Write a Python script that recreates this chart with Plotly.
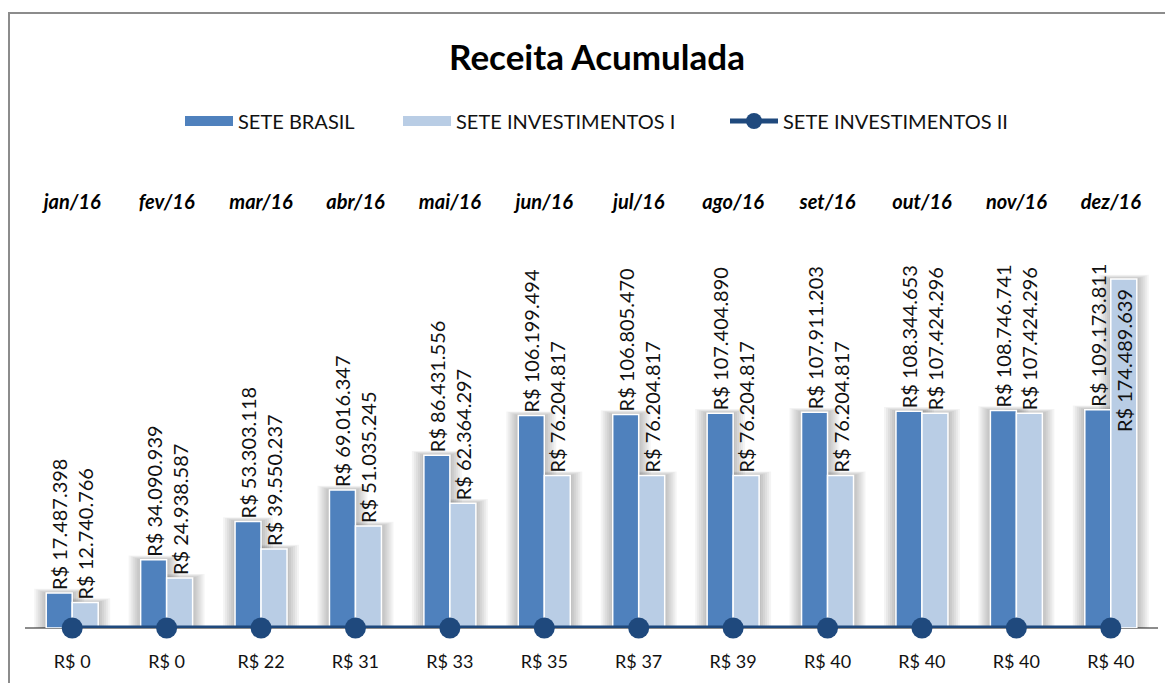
import plotly.graph_objects as go

months = ["jan/16", "fev/16", "mar/16", "abr/16", "mai/16", "jun/16",
          "jul/16", "ago/16", "set/16", "out/16", "nov/16", "dez/16"]
sete_brasil = [17487398, 34090939, 53303118, 69016347, 86431556, 106199494,
               106805470, 107404890, 107911203, 108344653, 108746741, 109173811]
sete_inv_1 = [12740766, 24938587, 39550237, 51035245, 62364297, 76204817,
              76204817, 76204817, 76204817, 107424296, 107424296, 174489639]
sete_inv_2 = [0, 0, 22, 31, 33, 35, 37, 39, 40, 40, 40, 40]


def brl(v):
    return "R$ " + f"{v:,}".replace(",", ".")


FONT = "Lato, 'Open Sans', sans-serif"
C_BRASIL = "#4F81BD"
C_INV1 = "#B9CDE5"
C_INV2 = "#1F497D"
TXT = "#111111"
GAP = "<span style='font-size:10px'>\u2800</span>"   # blank pad between bar end and label

# figure geometry (page body adds an 8px offset)
W, H = 1165, 675
L, R, T, B = 17, 15, 202, 55
pw = W - L - R
ph = H - T - B
PX_CAT = pw / len(months)          # px per category
Y_MAX = ph / 2 * 1e6               # 2 px per million
PX_Y = Y_MAX / ph                  # data units per px
BW = 26 / PX_CAT                   # bar width in category units

max_i1 = max(sete_inv_1)
pos_inv1 = ["inside" if v == max_i1 else "outside" for v in sete_inv_1]

fig = go.Figure()

# soft drop shadows behind the bars (mostly sideways, a little on top)
for e in [2, 4, 6, 8, 10, 12]:
    for vals, off in [(sete_brasil, -BW), (sete_inv_1, 0.0)]:
        fig.add_trace(go.Bar(
            x=months, y=[v + 0.35 * e * PX_Y for v in vals],
            offset=off - e / PX_CAT, width=BW + 2 * e / PX_CAT,
            marker=dict(color="rgba(0,0,0,0.045)", line=dict(width=0)),
            showlegend=False, hoverinfo="skip",
        ))

fig.add_trace(go.Bar(
    name="SETE BRASIL", x=months, y=sete_brasil, showlegend=False,
    offset=-BW, width=BW,
    marker=dict(color=C_BRASIL, line=dict(color="white", width=1.5)),
    text=[brl(v) + GAP for v in sete_brasil], textposition="outside",
    textangle=-90, textfont=dict(family=FONT, size=20, color=TXT),
    constraintext="none", cliponaxis=False,
))
fig.add_trace(go.Bar(
    name="SETE INVESTIMENTOS I", x=months, y=sete_inv_1, showlegend=False,
    offset=0.0, width=BW,
    marker=dict(color=C_INV1, line=dict(color="white", width=1.5)),
    text=[brl(v) + GAP for v in sete_inv_1], textposition=pos_inv1,
    insidetextanchor="end",
    textangle=-90, textfont=dict(family=FONT, size=20, color=TXT),
    constraintext="none", cliponaxis=False,
))
fig.add_trace(go.Scatter(
    name="SETE INVESTIMENTOS II", x=months, y=sete_inv_2, showlegend=False,
    mode="lines+markers",
    line=dict(color=C_INV2, width=5),
    marker=dict(color=C_INV2, size=21),
    cliponaxis=False,
))
# value labels of the line, below the markers
fig.add_trace(go.Scatter(
    x=months, y=sete_inv_2, showlegend=False, hoverinfo="skip",
    mode="markers+text",
    marker=dict(color="rgba(0,0,0,0)", size=40),
    text=["R$ " + str(v) for v in sete_inv_2], textposition="bottom center",
    textfont=dict(family=FONT, size=18, color=TXT),
    cliponaxis=False,
))

# legend entries (wide rectangle swatches like the original)
fig.add_trace(go.Scatter(name="SETE BRASIL", x=[None], y=[None], mode="lines",
                         line=dict(color=C_BRASIL, width=11), legend="legend"))
fig.add_trace(go.Scatter(name="SETE INVESTIMENTOS I", x=[None], y=[None], mode="lines",
                         line=dict(color=C_INV1, width=11), legend="legend2"))
fig.add_trace(go.Scatter(name="SETE INVESTIMENTOS II", x=[None], y=[None],
                         mode="lines+markers",
                         line=dict(color=C_INV2, width=5),
                         marker=dict(color=C_INV2, size=16), legend="legend3"))

leg_y = (H - B - 113) / ph
leg_common = dict(orientation="h", xanchor="left", y=leg_y, yanchor="middle",
                  font=dict(family=FONT, size=20, color=TXT), itemwidth=48,
                  bgcolor="rgba(0,0,0,0)")


def lx(px):
    return (px - L) / pw


fig.update_layout(
    width=W, height=H,
    margin=dict(l=L, r=R, t=T, b=B, autoexpand=False),
    paper_bgcolor="white", plot_bgcolor="white",
    barmode="overlay",
    title=dict(text="<b>Receita Acumulada</b>", x=589 / W, xanchor="center",
               y=1 - 50 / H, yanchor="middle",
               font=dict(family=FONT, size=35, color="#000")),
    legend=dict(x=lx(172), **leg_common),
    legend2=dict(x=lx(390), **leg_common),
    legend3=dict(x=lx(717), **leg_common),
    showlegend=True,
    font=dict(family=FONT, color=TXT),
)
fig.update_xaxes(side="top", showline=False, showgrid=False, ticks="",
                 automargin=False, range=[-0.5, len(months) - 0.5],
                 ticklabelstandoff=-4,
                 tickfont=dict(family=FONT, size=20, color="#000",
                               weight="bold", style="italic"))
fig.update_yaxes(range=[0, Y_MAX], showgrid=False, showticklabels=False,
                 automargin=False,
                 zeroline=True, zerolinecolor="#8c8c8c", zerolinewidth=2,
                 showline=False)

# outer chart frame (left and top edges)
fx = lx(1)
fy_top = (H - B - 5) / ph
fy_bot = (H - B - H - 5) / ph
fig.add_shape(type="path", xref="paper", yref="paper",
              path=f"M {fx} {fy_bot} L {fx} {fy_top} L 1.05 {fy_top}",
              line=dict(color="#8c8c8c", width=2))

fig.write_html("out.html")
